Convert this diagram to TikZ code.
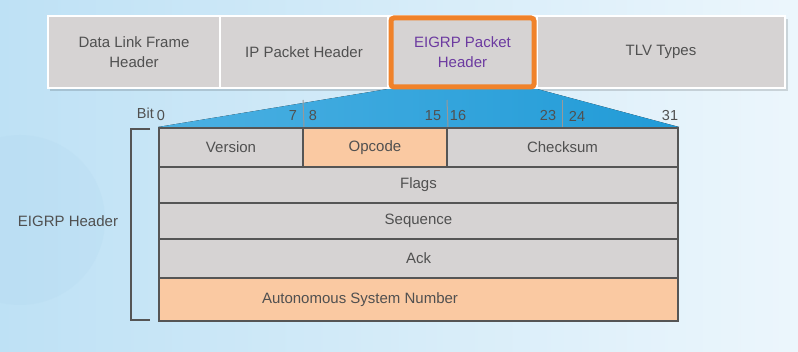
\documentclass[tikz,border=0pt]{standalone}
\usepackage{fontspec}
\setmainfont{Liberation Sans}
\usetikzlibrary{backgrounds}
\definecolor{bgl}{RGB}{190,225,245}
\definecolor{bgr}{RGB}{236,246,252}
\definecolor{bgd}{RGB}{175,214,238}
\definecolor{txt}{RGB}{80,80,80}
\definecolor{bargray}{RGB}{214,211,211}
\definecolor{cellgray}{RGB}{214,211,211}
\definecolor{peach}{RGB}{250,201,162}
\definecolor{edge}{RGB}{85,85,85}
\definecolor{orng}{RGB}{240,130,42}
\definecolor{purp}{RGB}{108,58,160}
\definecolor{trl}{RGB}{75,176,226}
\definecolor{trr}{RGB}{33,155,215}
\begin{document}
\begin{tikzpicture}[x=1pt,y=-1pt,
	every node/.style={inner sep=0pt, text=txt, font=\fontsize{15}{20}\selectfont},
	bar/.style={draw=white, line width=2pt, fill=bargray, minimum height=72pt, align=center},
	cell/.style={draw=edge, line width=2pt, fill=cellgray},
	hot/.style={cell, fill=peach},
	bit/.style={font=\fontsize{14.5}{16}\selectfont},
	tick/.style={draw=gray!80, line width=1pt},
	brk/.style={draw=edge, line width=1.3pt}]
		\useasboundingbox (0,0) rectangle (798,352);
		\begin{scope}[on background layer]
		\fill[left color=bgl, right color=bgr] (0,0) rectangle (798,352);
		\begin{scope}
		\clip (0,0) rectangle (798,352);
		\fill[bgd, opacity=.2] (20,220) circle (85);
		\end{scope}
		\fill[black, opacity=.14] (50,19) rectangle (788,91);
		\end{scope}
		% top bar
		\node[bar, minimum width=172pt] (dl) at (134,52) {Data Link Frame\\Header};
		\node[bar, minimum width=168pt] (ip) at (304,52) {IP Packet Header};
		\node[bar, minimum width=149pt, text=purp] (eh) at (462.5,52) {EIGRP Packet\\Header};
		\node[bar, minimum width=248pt] (tlv) at (661,52) {TLV Types};
		% table
		\node[cell, minimum width=144pt, minimum height=39pt] (ver) at (231,147.5) {Version};
		\node[hot, minimum width=144pt, minimum height=39pt] (opc) at (375,147.5) {Opcode};
		\node[cell, minimum width=231pt, minimum height=39pt] (chk) at (562.5,147.5) {Checksum};
		\node[cell, minimum width=519pt, minimum height=36pt] (flg) at (418.5,185) {Flags};
		\node[cell, minimum width=519pt, minimum height=36pt] (seq) at (418.5,221) {Sequence};
		\node[cell, minimum width=519pt, minimum height=39pt] (ack) at (418.5,258.5) {Ack};
		\node[hot, minimum width=519pt, minimum height=43pt] (asn) at (418.5,299.5) {};
		\node (asnt) at (360,299.5) {Autonomous System Number};
		\begin{scope}[on background layer]
		\fill[left color=trl, right color=trr] (388,89) -- (537,89) -- (chk.north east) -- (ver.north west) -- cycle;
		\end{scope}
		\node[draw=orng, line width=5pt, rounded corners=3pt, minimum width=143pt, minimum height=69pt] (hl) at (462.5,52.5) {};
		% bit numbers
		\node[bit, anchor=east] (bit) at (154,113) {Bit};
		\foreach \n/\x in {0/161, 7/293, 8/313, 15/433, 16/458, 23/548, 24/577, 31/670}
			\node[bit] (b\n) at (\x,116) {\n};
		\coordinate (t1) at (303,100);
		\coordinate (t2) at (447,100);
		\coordinate (t3) at (562.5,100);
		\draw[tick] (t1)--(ver.north east);
		\draw[tick] (t2)--(opc.north east);
		\draw[tick] (t3)--(chk.north);
		% bracket
		\coordinate (bt) at (150,129);
		\coordinate (bb) at (150,320);
		\draw[brk] (bt)--++(-19,0)|-(bb);
		\node (eg) at (68,221) {EIGRP Header};
\end{tikzpicture}
\end{document}
